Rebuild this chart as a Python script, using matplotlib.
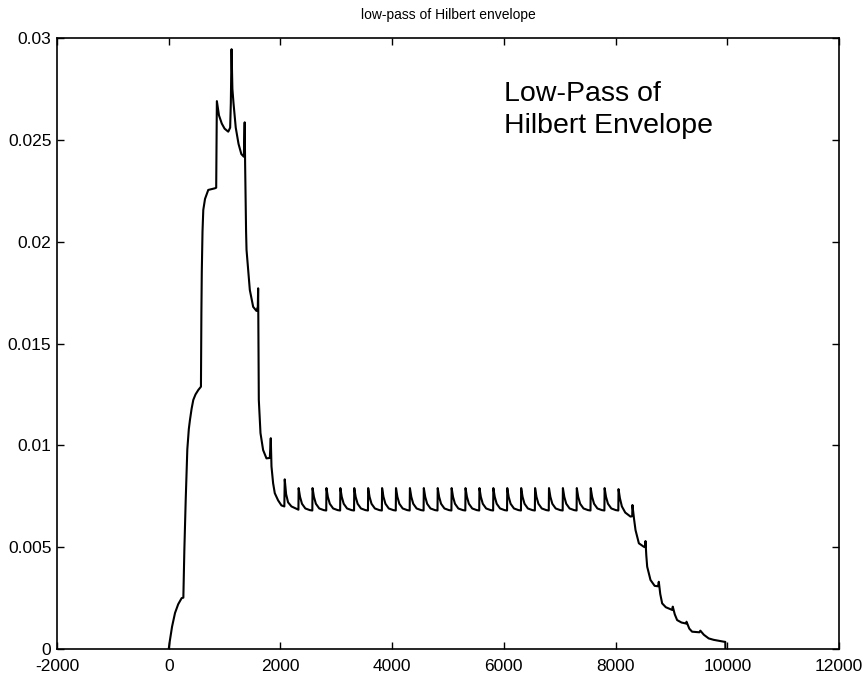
import matplotlib
matplotlib.use("Agg")
import matplotlib.pyplot as plt

plt.rcParams['font.family'] = ['Liberation Sans', 'DejaVu Sans']

# ---- data ----
rise_x = [0, 20, 60, 113, 170, 232, 262, 280, 304, 333, 360, 380, 410, 440, 480,
          530, 577, 585, 592, 605, 619, 650, 708, 827, 850, 862, 900, 950, 1000,
          1066, 1100, 1112, 1125, 1140, 1160, 1200, 1250, 1300, 1345, 1360, 1368,
          1385, 1393, 1423, 1452, 1512, 1571, 1595, 1601, 1607, 1613, 1643, 1690,
          1750, 1810, 1827, 1840, 1869, 1899, 1958, 2018]
rise_y = [0.0, 0.0004, 0.0011, 0.00177, 0.0022, 0.0025, 0.00252, 0.00486, 0.0073,
          0.0098, 0.0108, 0.01124, 0.0118, 0.01223, 0.0125, 0.01272, 0.01288,
          0.0165, 0.0185, 0.0205, 0.02156, 0.0221, 0.02254, 0.02262, 0.02265,
          0.0269, 0.0262, 0.0258, 0.02555, 0.0254, 0.0256, 0.0268, 0.02945,
          0.0275, 0.0268, 0.0256, 0.0248, 0.0243, 0.02417, 0.02586, 0.0238,
          0.0205, 0.0196, 0.0186, 0.01763, 0.0168, 0.0166, 0.0168, 0.01771,
          0.0150, 0.01223, 0.0106, 0.00977, 0.00936, 0.00938, 0.01035, 0.00896,
          0.00814, 0.00765, 0.0073, 0.00705]

plateau_x = [
    2070, 2077, 2102, 2137, 2197, 2277,
    2322, 2326, 2351, 2386, 2446, 2526,
    2571, 2575, 2600, 2635, 2695, 2775,
    2820, 2824, 2849, 2884, 2944, 3024,
    3069, 3073, 3098, 3133, 3193, 3273,
    3318, 3322, 3347, 3382, 3442, 3522,
    3567, 3571, 3596, 3631, 3691, 3771,
    3816, 3820, 3845, 3880, 3940, 4020,
    4065, 4069, 4094, 4129, 4189, 4269,
    4314, 4318, 4343, 4378, 4438, 4518,
    4563, 4567, 4592, 4627, 4687, 4767,
    4812, 4816, 4841, 4876, 4936, 5016,
    5061, 5065, 5090, 5125, 5185, 5265,
    5310, 5314, 5339, 5374, 5434, 5514,
    5559, 5563, 5588, 5623, 5683, 5763,
    5808, 5812, 5837, 5872, 5932, 6012,
    6057, 6061, 6086, 6121, 6181, 6261,
    6306, 6310, 6335, 6370, 6430, 6510,
    6555, 6559, 6584, 6619, 6679, 6759,
    6804, 6808, 6833, 6868, 6928, 7008,
    7053, 7057, 7082, 7117, 7177, 7257,
    7302, 7306, 7331, 7366, 7426, 7506,
    7551, 7555, 7580, 7615, 7675, 7755,
    7800, 7804, 7829, 7864, 7924, 8004,
    8049, 8053, 8078, 8113, 8173, 8268,
]
plateau_y = [
    0.00700, 0.00833, 0.00760, 0.00720, 0.00700, 0.00690,
    0.00684, 0.00790, 0.00747, 0.00713, 0.00690, 0.00682,
    0.00680, 0.00790, 0.00747, 0.00713, 0.00690, 0.00682,
    0.00680, 0.00790, 0.00747, 0.00713, 0.00690, 0.00682,
    0.00680, 0.00790, 0.00747, 0.00713, 0.00690, 0.00682,
    0.00680, 0.00790, 0.00747, 0.00713, 0.00690, 0.00682,
    0.00680, 0.00790, 0.00747, 0.00713, 0.00690, 0.00682,
    0.00680, 0.00790, 0.00747, 0.00713, 0.00690, 0.00682,
    0.00680, 0.00790, 0.00747, 0.00713, 0.00690, 0.00682,
    0.00680, 0.00790, 0.00747, 0.00713, 0.00690, 0.00682,
    0.00680, 0.00790, 0.00747, 0.00713, 0.00690, 0.00682,
    0.00680, 0.00790, 0.00747, 0.00713, 0.00690, 0.00682,
    0.00680, 0.00790, 0.00747, 0.00713, 0.00690, 0.00682,
    0.00680, 0.00790, 0.00747, 0.00713, 0.00690, 0.00682,
    0.00680, 0.00790, 0.00747, 0.00713, 0.00690, 0.00682,
    0.00680, 0.00790, 0.00747, 0.00713, 0.00690, 0.00682,
    0.00680, 0.00790, 0.00747, 0.00713, 0.00690, 0.00682,
    0.00680, 0.00790, 0.00747, 0.00713, 0.00690, 0.00682,
    0.00680, 0.00790, 0.00747, 0.00713, 0.00690, 0.00682,
    0.00680, 0.00790, 0.00747, 0.00713, 0.00690, 0.00682,
    0.00680, 0.00790, 0.00747, 0.00713, 0.00690, 0.00682,
    0.00680, 0.00790, 0.00747, 0.00713, 0.00690, 0.00682,
    0.00680, 0.00790, 0.00747, 0.00713, 0.00690, 0.00682,
    0.00680, 0.00790, 0.00747, 0.00713, 0.00690, 0.00682,
    0.00680, 0.00785, 0.00740, 0.00700, 0.00670, 0.00650,
]

tail_x = [8298, 8302, 8330, 8357, 8417, 8506, 8530, 8536, 8550, 8566, 8625, 8700,
          8760, 8774, 8800, 8834, 8900, 9000, 9012, 9024, 9060, 9102, 9180, 9250,
          9262, 9270, 9320, 9370, 9488, 9500, 9518, 9580, 9667, 9756, 9850, 9935,
          9964, 9966]
tail_y = [0.00652, 0.00707, 0.0064, 0.00584, 0.00519, 0.00502, 0.0050, 0.0053,
          0.0046, 0.00404, 0.00339, 0.0031, 0.00308, 0.0033, 0.0027, 0.00224,
          0.00205, 0.00193, 0.00192, 0.00208, 0.0017, 0.00142, 0.0013, 0.00126,
          0.00125, 0.00134, 0.0010, 0.00085, 0.00082, 0.00082, 0.0009, 0.0007,
          0.00052, 0.00045, 0.0004, 0.00036, 0.00035, 0.0]

x_ticks = [-2000, 0, 2000, 4000, 6000, 8000, 10000, 12000]
y_ticks = [0, 0.005, 0.01, 0.015, 0.02, 0.025, 0.03]
y_tick_labels = ['0', '0.005', '0.01', '0.015', '0.02', '0.025', '0.03']

title_text = 'low-pass of Hilbert envelope'
note_text = 'Low-Pass of\nHilbert Envelope'

# ---- figure ----
W, H = 865, 678
fig = plt.figure(figsize=(W / 100, H / 100), dpi=100)
ax = fig.add_axes([57 / W, 1 - 649 / H, (839 - 57) / W, (649 - 38) / H])

xs = rise_x + plateau_x + tail_x
ys = rise_y + plateau_y + tail_y
ax.plot(xs, ys, color='black', linewidth=1.5)

ax.set_xlim(-2000, 12000)
ax.set_ylim(0, 0.03)
ax.set_xticks(x_ticks)
ax.set_xticklabels([str(v) for v in x_ticks])
ax.set_yticks(y_ticks)
ax.set_yticklabels(y_tick_labels)

ax.tick_params(direction='in', length=5, width=1, top=True, right=True,
               labelsize=12.5, colors='black')
ax.tick_params(axis='x', pad=7)
ax.tick_params(axis='y', pad=4)
for s in ax.spines.values():
    s.set_linewidth(1.2)
    s.set_color('black')

ax.set_title(title_text, fontsize=10, pad=14)
ax.text(6000, 0.0279, note_text, fontsize=20.5, va='top', ha='left',
        linespacing=1.3)

fig.savefig('out.png', dpi=100, facecolor='white')
